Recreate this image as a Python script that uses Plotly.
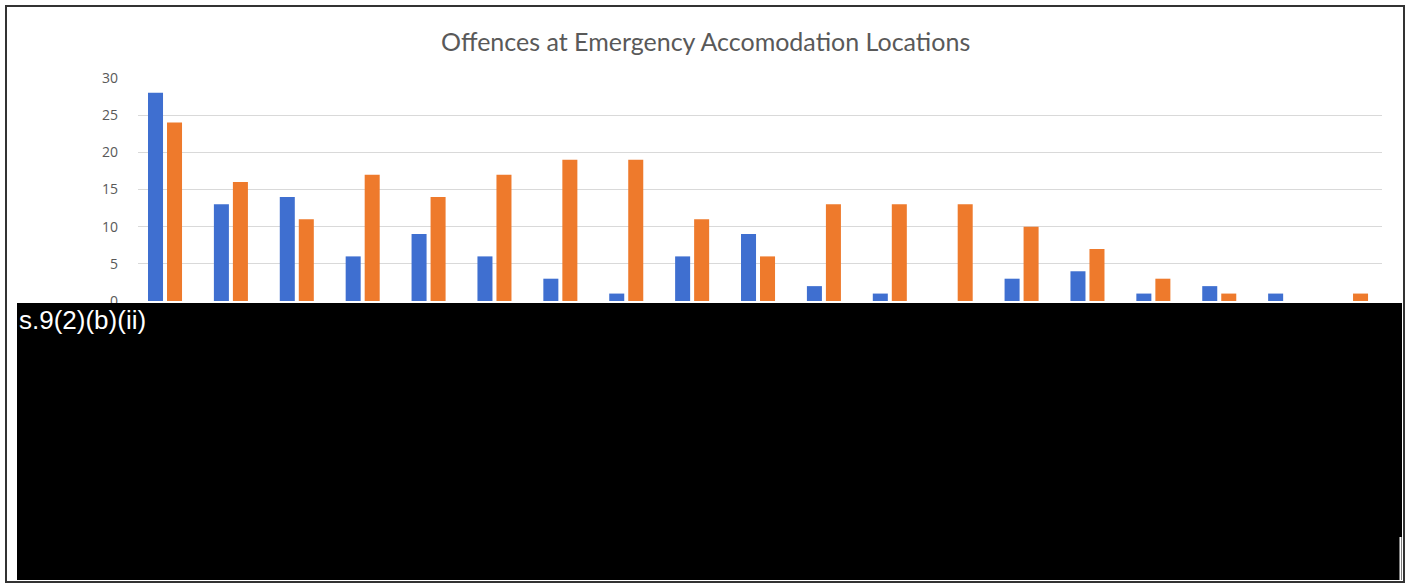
import plotly.graph_objects as go

# Offence counts per emergency accommodation location (two series)
locations = [f"Location {i}" for i in range(1, 20)]
series_a = [28, 13, 14, 6, 9, 6, 3, 1, 6, 9, 2, 1, 0, 3, 4, 1, 2, 1, 0]
series_b = [24, 16, 11, 17, 14, 17, 19, 19, 11, 6, 13, 13, 13, 10, 7, 3, 1, 0, 1]
series_names = ["Series A", "Series B"]
y_ticks = [0, 5, 10, 15, 20, 25, 30]

W, H = 1411, 587


def px_x(v):
    return v / W


def px_y(v):
    return (H - v) / H


fig = go.Figure()
fig.add_trace(go.Bar(x=locations, y=series_a, name=series_names[0],
                     marker=dict(color="#3F6FD0", line=dict(width=0))))
fig.add_trace(go.Bar(x=locations, y=series_b, name=series_names[1],
                     marker=dict(color="#EE7A2C", line=dict(width=0))))

fig.update_layout(
    width=W, height=H,
    margin=dict(l=0, r=0, t=0, b=0),
    paper_bgcolor="white", plot_bgcolor="white",
    barmode="group", bargap=0.423, bargroupgap=0.21,
    showlegend=False,
    xaxis=dict(domain=[px_x(138), px_x(1382)], range=[-0.41, 18.47],
               showgrid=False, zeroline=False, showline=False, ticks="",
               automargin=False, tickangle=-90,
               tickfont=dict(family="Lato", size=12, color="#595959")),
    yaxis=dict(domain=[px_y(301), px_y(78)], range=[0, 30], tickvals=y_ticks,
               showgrid=True, gridcolor="#D9D9D9", gridwidth=1, zeroline=False,
               showline=False, ticks="", automargin=False, ticklabelstandoff=19,
               tickfont=dict(family="Open Sans", size=14, color="#595959")),
)

fig.add_annotation(text="Offences at Emergency Accomodation Locations",
                   x=px_x(705), y=px_y(41), xref="paper", yref="paper",
                   xanchor="center", yanchor="middle", showarrow=False,
                   font=dict(family="Lato", size=25, color="#595959"))

# Redaction block over the lower part of the chart
fig.add_shape(type="rect", xref="paper", yref="paper",
              x0=px_x(17), x1=px_x(1402), y0=px_y(580), y1=px_y(303),
              fillcolor="black", line=dict(width=0), layer="above")
fig.add_shape(type="line", xref="paper", yref="paper",
              x0=px_x(1400.5), x1=px_x(1400.5), y0=px_y(580), y1=px_y(537),
              line=dict(color="white", width=2), layer="above")
fig.add_annotation(text="s.9(2)(b)(ii)", x=px_x(17), y=px_y(303),
                   xref="paper", yref="paper", xanchor="left", yanchor="top",
                   showarrow=False,
                   font=dict(family="Liberation Sans", size=26, color="white"))

# Outer frame
fig.add_shape(type="rect", xref="paper", yref="paper",
              x0=px_x(6), x1=px_x(1404), y0=px_y(582), y1=px_y(6),
              line=dict(color="#333333", width=2), fillcolor="rgba(0,0,0,0)",
              layer="above")

fig.write_html("out.html")
